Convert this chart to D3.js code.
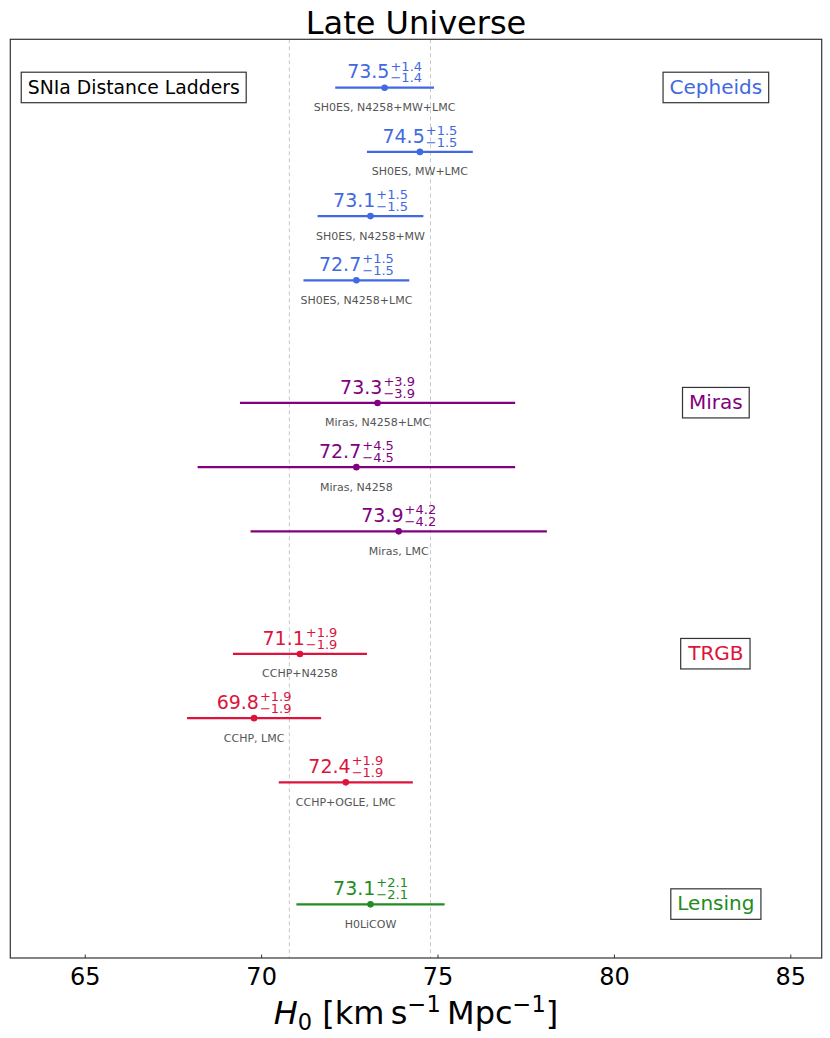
<!DOCTYPE html>
<html>
<head>
<meta charset="utf-8">
<script src="https://cdn.jsdelivr.net/npm/d3@7"></script>
<style>
  body { margin: 0; background: #fff; }
  svg { font-family: "DejaVu Sans", sans-serif; }
</style>
</head>
<body>
<div class="canvas"></div>
<script>
// measurements, top to bottom
const names = ["SH0ES, N4258+MW+LMC", "SH0ES, MW+LMC", "SH0ES, N4258+MW", "SH0ES, N4258+LMC",
  "Miras, N4258+LMC", "Miras, N4258", "Miras, LMC",
  "CCHP+N4258", "CCHP, LMC", "CCHP+OGLE, LMC",
  "H0LiCOW"];
const values = [73.5, 74.5, 73.1, 72.7, 73.3, 72.7, 73.9, 71.1, 69.8, 72.4, 73.1];
const errPlus = [1.4, 1.5, 1.5, 1.5, 3.9, 4.5, 4.2, 1.9, 1.9, 1.9, 2.1];
const errMinus = [1.4, 1.5, 1.5, 1.5, 3.9, 4.5, 4.2, 1.9, 1.9, 1.9, 2.1];
const rows = [0, 1, 2, 3, 4.91, 5.91, 6.91, 8.82, 9.82, 10.82, 12.72];
const groupOf = [0, 0, 0, 0, 1, 1, 1, 2, 2, 2, 3];

const groups = ["Cepheids", "Miras", "TRGB", "Lensing"];
const groupRows = [0, 4.91, 8.82, 12.72];
const groupColors = ["#4169e1", "#800080", "#dc143c", "#228b22"];

const bandLines = [70.8, 74.8];
const xTicks = [65, 70, 75, 80, 85];

const svg = d3.select(".canvas")
  .append("svg")
  .attr("width", 830)
  .attr("height", 1038);

const plot = {left: 10.3, right: 821.7, top: 39.3, bottom: 958};

const x = d3.scaleLinear()
  .domain([62.89, 85.89])
  .range([plot.left, plot.right]);

const y = d3.scaleLinear()
  .domain([-0.754, 13.556])
  .range([plot.top, plot.bottom]);

// dashed reference lines
svg.selectAll(".band")
  .data(bandLines)
  .enter()
  .append("line")
  .attr("x1", d => x(d)).attr("x2", d => x(d))
  .attr("y1", plot.top).attr("y2", plot.bottom)
  .attr("stroke", "#c8c8c8")
  .attr("stroke-width", 1)
  .attr("stroke-dasharray", "4,3");

const data = values.map((v, i) => ({
  v, name: names[i], p: errPlus[i], m: errMinus[i], row: rows[i], color: groupColors[groupOf[i]]
}));

// error bars
svg.selectAll(".err")
  .data(data)
  .enter()
  .append("line")
  .attr("x1", d => x(d.v - d.m))
  .attr("x2", d => x(d.v + d.p))
  .attr("y1", d => y(d.row))
  .attr("y2", d => y(d.row))
  .attr("stroke", d => d.color)
  .attr("stroke-width", 2.3);

svg.selectAll(".pt")
  .data(data)
  .enter()
  .append("circle")
  .attr("cx", d => x(d.v))
  .attr("cy", d => y(d.row))
  .attr("r", 3.3)
  .attr("fill", d => d.color);

// value labels with asymmetric errors
data.forEach(d => {
  const g = svg.append("g").attr("fill", d.color);
  const main = g.append("text").attr("font-size", 19).text(d.v.toFixed(1));
  const mw = main.node().getComputedTextLength();
  const sup = g.append("text").attr("x", mw + 1).attr("y", -7.8).attr("font-size", 13)
    .text("+" + d.p.toFixed(1));
  const sub = g.append("text").attr("x", mw + 1).attr("y", 4).attr("font-size", 13)
    .text("\u2212" + d.m.toFixed(1));
  const w = mw + 1 + Math.max(sup.node().getComputedTextLength(), sub.node().getComputedTextLength());
  g.attr("transform", `translate(${x(d.v) - w / 2},${y(d.row) - 9.4})`);
});

// names under bars
svg.selectAll(".name")
  .data(data)
  .enter()
  .append("text")
  .attr("x", d => x(d.v))
  .attr("y", d => y(d.row) + 23.5)
  .attr("text-anchor", "middle")
  .attr("font-size", 11)
  .attr("fill", "#555")
  .text(d => d.name);

// boxed labels
function boxLabel(cx, cy, txt, color, anchor, size) {
  const g = svg.append("g");
  const t = g.append("text")
    .attr("x", cx).attr("y", cy + 6)
    .attr("text-anchor", anchor)
    .attr("font-size", size)
    .attr("fill", color)
    .text(txt);
  const bb = t.node().getBBox();
  g.insert("rect", "text")
    .attr("x", bb.x - 6.5).attr("y", cy - 15.5)
    .attr("width", bb.width + 13).attr("height", 30.5)
    .attr("fill", "#fff")
    .attr("stroke", "#333")
    .attr("stroke-width", 1.2);
}

groups.forEach((gname, i) => boxLabel(x(82.89), y(groupRows[i]), gname, groupColors[i], "middle", 20));
boxLabel(x(63.2) + 6.5, y(0), "SNIa Distance Ladders", "#000", "start", 18.8);

// frame
svg.append("rect")
  .attr("x", plot.left).attr("y", plot.top)
  .attr("width", plot.right - plot.left).attr("height", plot.bottom - plot.top)
  .attr("fill", "none")
  .attr("stroke", "#333")
  .attr("stroke-width", 1.2);

// x axis
const xAxis = svg.append("g")
  .attr("transform", `translate(0,${plot.bottom})`)
  .call(d3.axisBottom(x).tickValues(xTicks).tickSizeInner(-3.5).tickSizeOuter(0).tickPadding(10));
xAxis.select(".domain").remove();
xAxis.selectAll("line").attr("stroke", "#333");
xAxis.selectAll("text")
  .attr("font-size", 24)
  .attr("font-family", "DejaVu Sans, sans-serif")
  .attr("fill", "#000");

// axis label
const xl = svg.append("text")
  .attr("x", (plot.left + plot.right) / 2)
  .attr("y", 1024)
  .attr("text-anchor", "middle")
  .attr("font-size", 32)
  .attr("fill", "#000");
xl.append("tspan").attr("font-style", "italic").text("H");
xl.append("tspan").attr("font-size", 22.5).attr("dy", 6).text("0");
xl.append("tspan").attr("dy", -6).text(" [km\u2009s");
xl.append("tspan").attr("font-size", 22.5).attr("dy", -12).text("\u22121");
xl.append("tspan").attr("dy", 12).text("\u2009Mpc");
xl.append("tspan").attr("font-size", 22.5).attr("dy", -12).text("\u22121");
xl.append("tspan").attr("dy", 12).text("]");

// title
svg.append("text")
  .attr("x", (plot.left + plot.right) / 2)
  .attr("y", 34)
  .attr("text-anchor", "middle")
  .attr("font-size", 32)
  .attr("fill", "#000")
  .text("Late Universe");
</script>
</body>
</html>
